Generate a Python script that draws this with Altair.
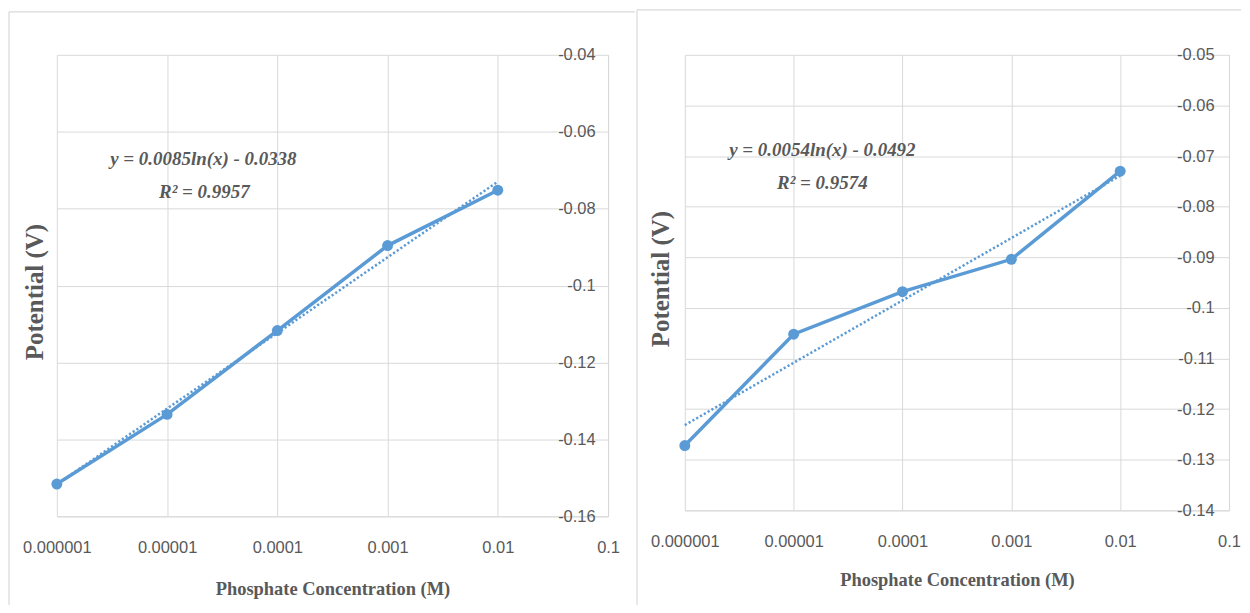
import altair as alt
import pandas as pd

# ---- data ----
conc = [0.000001, 0.00001, 0.0001, 0.001, 0.01]
pot_left = [-0.1516, -0.1335, -0.1117, -0.0896, -0.0752]
pot_right = [-0.1272, -0.1052, -0.0968, -0.0904, -0.0730]

x_ticks = [0.000001, 0.00001, 0.0001, 0.001, 0.01, 0.1]
y_ticks_left = [-0.16, -0.14, -0.12, -0.10, -0.08, -0.06, -0.04]
y_ticks_right = [-0.14, -0.13, -0.12, -0.11, -0.10, -0.09, -0.08, -0.07, -0.06, -0.05]

eq_left = ["y = 0.0085ln(x) - 0.0338", "R² = 0.9957"]
eq_right = ["y = 0.0054ln(x) - 0.0492", "R² = 0.9574"]

x_title = "Phosphate Concentration (M)"
y_title = "Potential (V)"

BLUE = "#5B9BD5"
TXT = "#595959"
GRID = "#D9D9D9"
TICK_FONT = "Liberation Sans Narrow, Arial Narrow, Liberation Sans, sans-serif"
SERIF = "Liberation Serif, Times New Roman, serif"


def panel(pot, y_dom, y_ticks, eq, w, h, eq_xy, ytitle_xy, lab_pad, title_pad, borders):
    df = pd.DataFrame({"x": conc, "y": pot})
    one = pd.DataFrame({"k": [0]})

    xenc = alt.X(
        "x:Q",
        scale=alt.Scale(type="log", domain=[x_ticks[0], x_ticks[-1]], nice=False),
        axis=alt.Axis(
            values=x_ticks,
            labelExpr="format(datum.value, '.6~f')",
            grid=True, gridColor=GRID, domainColor=GRID,
            ticks=False, tickSize=0,
            labelFont=TICK_FONT, labelFontSize=16.5, labelColor=TXT,
            labelBaseline="middle", labelPadding=31,
            labelFlush=False, labelOverlap=False,
            title=x_title, titleFont=SERIF, titleFontWeight="bold",
            titleFontSize=18.5, titleColor=TXT, titlePadding=title_pad,
        ),
    )
    yenc = alt.Y(
        "y:Q",
        scale=alt.Scale(domain=y_dom, nice=False, zero=False),
        axis=alt.Axis(
            orient="right",
            values=y_ticks,
            labelExpr="replace(format(datum.value, '~g'), '\u2212', '-')",
            grid=True, gridColor=GRID, domainColor=GRID,
            ticks=False, tickSize=0,
            labelFont=TICK_FONT, labelFontSize=16.5, labelColor=TXT,
            labelAlign="right", labelPadding=lab_pad,
            labelFlush=False, labelOverlap=False,
            title=None,
        ),
    )

    base = alt.Chart(df)
    line = base.mark_line(color=BLUE, strokeWidth=3.5).encode(x=xenc, y=yenc)
    pts = base.mark_circle(color=BLUE, size=120, opacity=1).encode(x="x:Q", y="y:Q")
    trend = (
        base.transform_regression("x", "y", method="log")
        .mark_line(color=BLUE, strokeWidth=2.5, strokeDash=[2.2, 2.2])
        .encode(x="x:Q", y="y:Q")
    )

    layers = [line, pts, trend]

    for i, t in enumerate(eq):
        layers.append(
            alt.Chart(one).mark_text(
                text=t, font=SERIF, fontSize=19, fontWeight="bold", fontStyle="italic",
                color=TXT, align="center", baseline="middle",
            ).encode(x=alt.value(eq_xy[i][0]), y=alt.value(eq_xy[i][1]))
        )

    layers.append(
        alt.Chart(one).mark_text(
            text=y_title, font=SERIF, fontSize=25, fontWeight="bold",
            color=TXT, angle=270, align="center", baseline="middle",
        ).encode(x=alt.value(ytitle_xy[0]), y=alt.value(ytitle_xy[1]))
    )

    for b in borders:
        layers.append(
            alt.Chart(one).mark_rule(color=GRID, strokeWidth=1.2).encode(
                x=alt.value(b[0]), x2=alt.value(b[1]), y=alt.value(b[2]), y2=alt.value(b[3])
            )
        )

    return alt.layer(*layers).properties(width=w, height=h)


left = panel(
    pot_left, [-0.16, -0.04], y_ticks_left, eq_left, 553, 463,
    [(147, 105), (148, 138)], (-22, 238), -13, 24,
    [(-48, 580, -43, -43), (-48, -48, -43, 552)],
)
right = panel(
    pot_right, [-0.14, -0.05], y_ticks_right, eq_right, 546, 457,
    [(138, 96), (138, 129)], (-24, 225), -15, 21,
    [(-48, 558, -45, -45), (-48, -48, -45, 552)],
)

chart = (
    alt.hconcat(left, right, spacing=0)
    .properties(padding=0, background="white")
    .configure_view(strokeWidth=0)
)

chart.save("out.html", embed_options={"renderer": "svg", "actions": False})
